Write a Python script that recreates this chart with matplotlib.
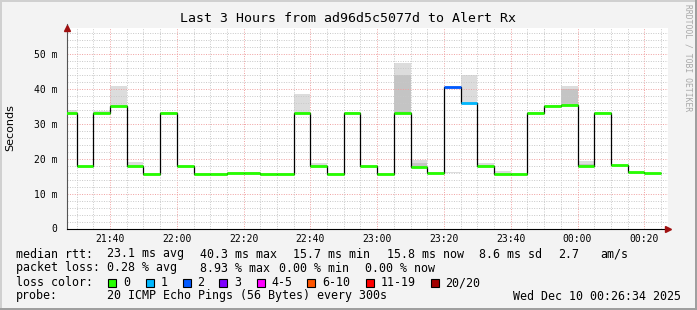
import matplotlib
matplotlib.use("Agg")
import matplotlib.pyplot as plt
from matplotlib.patches import Rectangle
import numpy as np

W, H = 697, 310
nan = np.nan

# 5 minute slots, minutes after midnight of the first day (21:25 ... 00:20)
slot_start = np.arange(21 * 60 + 25, 24 * 60 + 25, 5)

# median rtt per slot in ms
median = [33.0, 17.8, 33.0, 35.0, 17.8, 15.7, 33.0, 17.8, 15.7, 15.7, 16.0, 16.0,
          15.7, 15.7, 33.0, 17.8, 15.7, 33.0, 17.9, 15.7, 33.0, 17.7, 16.0, 40.3,
          36.0, 17.8, 15.7, 15.7, 33.0, 35.0, 35.3, 17.8, 33.0, 18.1, 16.1, 15.8]
# loss colour index per slot
loss = [0, 0, 0, 0, 0, 0, 0, 0, 0, 0, 0, 0,
        0, 0, 0, 0, 0, 0, 0, 0, 0, 0, 0, 2,
        1, 0, 0, 0, 0, 0, 0, 0, 0, 0, 0, 0]
# smoke (ping spread) per slot
smoke_lo = [33.0, 17.8, 33.0, 35.0, 17.8, 15.7, 33.0, 17.8, 15.7, 15.7, 16.0, 16.0,
            15.7, 15.7, 33.0, 17.8, 15.7, 33.0, 17.9, 15.7, 33.0, 17.7, 16.0, 15.8,
            35.6, 17.8, 15.7, 15.7, 33.0, 35.0, 35.3, 17.8, 33.0, 18.1, 16.1, 15.8]
smoke_hi = [33.9, 18.0, 33.6, 40.8, 19.0, 15.9, 33.2, 18.0, 15.8, 15.8, 16.1, 16.1,
            15.8, 15.8, 38.3, 18.6, 15.8, 33.2, 18.0, 15.8, 47.4, 19.6, 16.1, 16.1,
            44.0, 18.6, 16.3, 15.8, 33.2, 35.2, 40.8, 19.3, 33.2, 18.2, 16.2, 15.9]
smoke_dark = [nan, nan, nan, nan, nan, nan, nan, nan, nan, nan, nan, nan,
              nan, nan, nan, nan, nan, nan, nan, nan, 44.0, 18.7, nan, nan,
              nan, nan, nan, nan, nan, nan, 39.8, 18.5, nan, nan, nan, nan]

loss_labels = ["0", "1", "2", "3", "4-5", "6-10", "11-19", "20/20"]
loss_colors = ["#26ff00", "#00b8ff", "#0059ff", "#7e00ff", "#ff00ff", "#ff5500", "#ff0000", "#a10000"]

x_ticks = [1300, 1320, 1340, 1360, 1380, 1400, 1420, 1440, 1460]
x_labels = ["21:40", "22:00", "22:20", "22:40", "23:00", "23:20", "23:40", "00:00", "00:20"]
y_ticks = [0, 10, 20, 30, 40, 50]
y_labels = ["0", "10 m", "20 m", "30 m", "40 m", "50 m"]

mono = "DejaVu Sans Mono"

fig = plt.figure(figsize=(W / 100, H / 100), dpi=100)
fig.patch.set_facecolor("#f3f3f3")

def px(x, y):
    return x / W, 1 - y / H

# 3d-ish frame
fig.patches.append(Rectangle((0, 1 - 2 / H), 1, 2 / H, transform=fig.transFigure, color="#d0d0d0", lw=0))
fig.patches.append(Rectangle((0, 0), 2 / W, 1, transform=fig.transFigure, color="#d0d0d0", lw=0))
fig.patches.append(Rectangle((0, 0), 1, 2 / H, transform=fig.transFigure, color="#9f9f9f", lw=0))
fig.patches.append(Rectangle((1 - 2 / W, 0), 2 / W, 1, transform=fig.transFigure, color="#9f9f9f", lw=0))

ax = fig.add_axes([67 / W, (H - 228.5) / H, 601 / W, 200.5 / H])
ax.set_facecolor("white")
ax.set_xlim(1287.1, 1467.1)
ax.set_ylim(0, 57.3)

edges = np.append(slot_start, slot_start[-1] + 5)
starts = slot_start.astype(float)
med = np.array(median)
lo = np.array(smoke_lo)
hi = np.array(smoke_hi)
dk = np.array(smoke_dark)

# smoke
ax.bar(starts, hi - lo, bottom=lo, width=5, align="edge", color="#dcdcdc", lw=0, zorder=0.2)
has_dk = ~np.isnan(dk)
ax.bar(starts[has_dk], dk[has_dk] - lo[has_dk], bottom=lo[has_dk], width=5, align="edge",
       color="#c4c4c4", lw=0, zorder=0.3)

# grid
ax.set_xticks(x_ticks)
ax.set_xticklabels(x_labels)
ax.set_xticks(np.arange(1290, 1470, 5), minor=True)
ax.set_yticks(y_ticks)
ax.set_yticklabels(y_labels)
ax.set_yticks(np.arange(0, 58, 2), minor=True)
ax.grid(which="minor", color="#c8c8c8", lw=0.7, ls=(0, (1, 1.5)))
ax.grid(which="major", color="#f0a0a0", lw=0.7, ls=(0, (1, 1.5)))
ax.set_axisbelow(True)

# median line and loss coloured segments
ax.stairs(med, edges, baseline=None, color="black", lw=0.9, zorder=3)
ax.hlines(med, edges[:-1], edges[1:], colors=[loss_colors[i] for i in loss], lw=2.0, zorder=4)

for s in ["top", "right"]:
    ax.spines[s].set_visible(False)
ax.spines["bottom"].set_color("black")
ax.spines["left"].set_color("#555555")
ax.tick_params(which="both", length=0, labelsize=7)
ax.tick_params(axis="x", pad=4)
ax.tick_params(axis="y", pad=7)
for t in ax.get_xticklabels() + ax.get_yticklabels():
    t.set_family(mono)

# arrows
ax.plot([0], [1.0], marker="^", ms=4.5, color="#a01010", transform=ax.transAxes, clip_on=False, zorder=5)
ax.plot([0, 0], [1.0, 1.02], color="#555555", lw=0.8, transform=ax.transAxes, clip_on=False)
ax.plot([1.0], [0], marker=">", ms=4.5, color="#a01010", transform=ax.transAxes, clip_on=False, zorder=5)

# title and labels
fig.text(*px(348, 19), "Last 3 Hours from ad96d5c5077d to Alert Rx", family=mono, size=9.5,
         ha="center", va="center")
fig.text(*px(10, 128), "Seconds", rotation=90, size=8, ha="center", va="center")
fig.text(*px(688, 58), "RRDTOOL / TOBI OETIKER", rotation=270, family=mono, size=5.8,
         color="#a8a8a8", ha="center", va="center")

# legend rows
fs = 8.4
rows = [
    (254, [(16, "median rtt:"), (107.3, "23.1 ms avg"), (200, "40.3 ms max"), (293.3, "15.7 ms min"),
           (386.7, "15.8 ms now"), (479.3, "8.6 ms sd"), (558, "2.7"), (600.7, "am/s")]),
    (268, [(16, "packet loss:"), (107.3, "0.28 % avg"), (200, "8.93 % max"), (279.3, "0.00 % min"),
           (365, "0.00 % now")]),
    (282.5, [(16, "loss color:")]),
    (296, [(16, "probe:"), (107.3, "20 ICMP Echo Pings (56 Bytes) every 300s"),
           (513.3, "Wed Dec 10 00:26:34 2025")]),
]
for y, items in rows:
    for x, s in items:
        fig.text(*px(x, y), s, family=mono, size=fs, ha="left", va="center")

sq_x = [108.3, 145.7, 182.7, 219.3, 256.7, 307.3, 365.7, 431]
for x, lab, col in zip(sq_x, loss_labels, loss_colors):
    fig.patches.append(Rectangle(px(x, 286.5), 8 / W, 8 / H, transform=fig.transFigure,
                                 facecolor=col, edgecolor="black", lw=0.8))
    fig.text(*px(x + 14.5, 282.5), lab, family=mono, size=fs, ha="left", va="center")

fig.savefig("out.png", dpi=100, facecolor=fig.get_facecolor())
